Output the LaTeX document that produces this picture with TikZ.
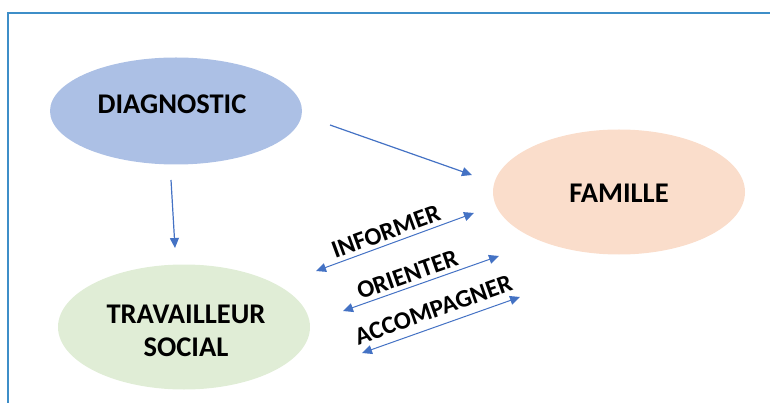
\documentclass[tikz,border=0pt]{standalone}
\usepackage{fontspec}
\setmainfont{Carlito}
\usepackage{xcolor}
\usetikzlibrary{arrows.meta,shapes}
\definecolor{cadre}{RGB}{62,142,200}
\definecolor{fleche}{RGB}{68,114,196}
\definecolor{diagbleu}{RGB}{172,192,229}
\definecolor{famrose}{RGB}{250,221,203}
\definecolor{travvert}{RGB}{224,237,214}

\begin{document}
\begin{tikzpicture}[x=1pt,y=-1pt,
	bulle/.style={ellipse,minimum width=252pt,minimum height=107pt,inner sep=0pt},
	titre/.style={font=\fontsize{28.5}{33}\selectfont\bfseries,align=center},
	verbe/.style={font=\fontsize{25}{28}\selectfont\bfseries,sloped,above=2pt,inner sep=2pt}]
		\useasboundingbox (0,0) rectangle (770,403);
		\draw[cadre,line width=2pt] (770,13) -- (8,13) -- (8,403);
		%
		\node[bulle,fill=diagbleu] (D) at (176,111) {};
		\node[bulle,fill=famrose,minimum height=125pt] (F) at (619,192) {};
		\node[bulle,fill=travvert,minimum height=125pt] (T) at (184,327) {};
		\node[titre] (Dt) at (172,104) {DIAGNOSTIC};
		\node[titre] (Ft) at (619,193) {FAMILLE};
		\node[titre] (Tt) at (186,331) {TRAVAILLEUR\\SOCIAL};
		%
		\coordinate (D1) at (330,125);
		\coordinate (F1) at (472,175);
		\coordinate (D2) at (171,180);
		\coordinate (T2) at (175,248);
		\coordinate (Ia) at (316,271);
		\coordinate (Ib) at (474,213);
		\coordinate (Oa) at (343,311);
		\coordinate (Ob) at (499,256);
		\coordinate (Aa) at (362,353);
		\coordinate (Ab) at (520,297);
		%
		\path[fleche,line width=1.2pt,-{Triangle[length=10pt,width=9pt]}]
		% arrows from the diagnostic
		(D1) edge (F1)
		(D2) edge (T2);
		\path[fleche,line width=1pt,{Triangle[length=10pt,width=9pt]}-{Triangle[length=10pt,width=9pt]}]
		% double arrows
		(Ia) edge node[verbe,text=black,xshift=-5pt]{INFORMER} (Ib)
		(Oa) edge node[verbe,text=black,xshift=-10pt]{ORIENTER} (Ob)
		(Aa) edge node[verbe,text=black,xshift=-2pt,above=4pt]{ACCOMPAGNER} (Ab);
\end{tikzpicture}
\end{document}
